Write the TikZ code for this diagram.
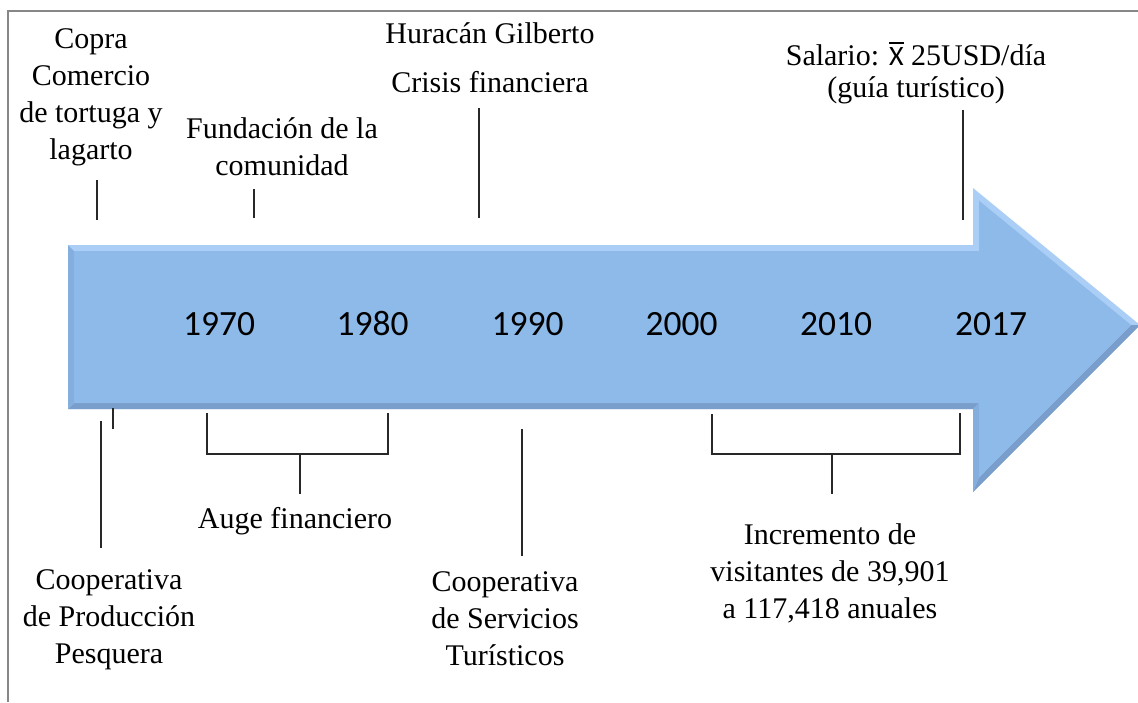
\documentclass[tikz,border=0pt]{standalone}
\usepackage{fontspec}
\setmainfont{Liberation Serif}
\newfontfamily\yearfont{Carlito}
\newcommand{\xbarsym}{{\fontsize{28}{30}\selectfont\yearfont\setbox0\hbox{X}\rlap{\raisebox{\dimexpr\ht0+3.5pt\relax}{\rule{\wd0}{1.8pt}}}X}}
\definecolor{arrowmain}{RGB}{141,186,233}
\definecolor{arrowlight}{RGB}{170,206,245}
\definecolor{arrowmid}{RGB}{132,174,222}
\definecolor{arrowdark}{RGB}{122,158,204}
\definecolor{framegray}{RGB}{135,135,135}
\definecolor{tickgray}{RGB}{40,40,40}
\begin{document}
\begin{tikzpicture}[x=1pt,y=-1pt,
  lbl/.style={font=\fontsize{30}{37}\selectfont, align=center, anchor=base, inner sep=0pt},
  yr/.style={font=\fontsize{35.5}{40}\selectfont\yearfont, anchor=base, inner sep=0pt},
  tickline/.style={draw=tickgray, line width=1.3pt},
  framelines/.style={draw=framegray, line width=1.6pt}]
\useasboundingbox (0,0) rectangle (1138,702);
\fill[white] (0,0) rectangle (1138,702);
% frame (left and top sides)
\draw[framelines] (8,702) -- (8,11) -- (1138,11);
% arrow
\begin{scope}
\clip (0,0) rectangle (1138,702);
\fill[arrowlight] (68,245) -- (973,245) -- (973,188) -- (1140,325) -- (973,492) -- (973,409) -- (68,409) -- cycle;
\fill[arrowdark] (68,409) -- (973,409) -- (979,403) -- (74,403) -- cycle;
\fill[arrowdark] (1140,325) -- (973,492) -- (979,477.5) -- (1131,325) -- cycle;
\fill[arrowmid] (973,409) -- (973,492) -- (979,477.5) -- (979,403) -- cycle;
\fill[arrowmid] (68,245) -- (74,251) -- (74,403) -- (68,409) -- cycle;
\fill[arrowmain] (74,251) -- (979,251) -- (979,200.7) -- (1131,325) -- (979,477.5) -- (979,403) -- (74,403) -- cycle;
\end{scope}
% years
\node[yr] (y1970) at (219,335) {1970};
\node[yr] (y1980) at (372.5,335) {1980};
\node[yr] (y1990) at (527.5,335) {1990};
\node[yr] (y2000) at (681.5,335) {2000};
\node[yr] (y2010) at (836,335) {2010};
\node[yr] (y2017) at (991,335) {2017};
% top labels (base anchor = baseline of the last line)
\node[lbl] (copra) at (91,159) {Copra\\Comercio\\de tortuga y\\lagarto};
\node[lbl] (fund) at (282,175) {Fundación de la\\comunidad};
\node[lbl] (hura) at (490,43) {Huracán Gilberto};
\node[lbl] (crisis) at (490,92) {Crisis financiera};
\node[lbl] (sal) at (916,97) {Salario: \xbarsym\ 25USD/día\\[-5pt](guía turístico)};
% bottom labels
\node[lbl] (auge) at (295,528) {Auge financiero};
\node[lbl] (coopp) at (109,663) {Cooperativa\\de Producción\\Pesquera};
\node[lbl] (coops) at (505,665) {Cooperativa\\de Servicios\\Turísticos};
\node[lbl] (incr) at (830,618) {Incremento de\\visitantes de 39,901\\a 117,418 anuales};
% tick coordinates
\coordinate (t1a) at (97,180);  \coordinate (t1b) at (97,220);
\coordinate (t2a) at (254,189); \coordinate (t2b) at (254,218);
\coordinate (t3a) at (479,108); \coordinate (t3b) at (479,218);
\coordinate (t4a) at (963,110); \coordinate (t4b) at (963,220);
\coordinate (b1a) at (113,408); \coordinate (b1b) at (113,429);
\coordinate (b2a) at (101,421); \coordinate (b2b) at (101,548);
\coordinate (b3a) at (522,429); \coordinate (b3b) at (522,556);
\coordinate (ag1) at (207,413); \coordinate (ag2) at (388,413);
\coordinate (agm) at (300,454); \coordinate (agt) at (300,494);
\coordinate (in1) at (712,414); \coordinate (in2) at (960,413);
\coordinate (inm) at (832,454); \coordinate (int) at (832,494);
% top ticks
\draw[tickline] (t1a) -- (t1b);
\draw[tickline] (t2a) -- (t2b);
\draw[tickline] (t3a) -- (t3b);
\draw[tickline] (t4a) -- (t4b);
% bottom ticks
\draw[tickline] (b1a) -- (b1b);
\draw[tickline] (b2a) -- (b2b);
\draw[tickline] (b3a) -- (b3b);
\draw[tickline] (ag1) -- (ag1 |- agm) -- (ag2 |- agm) -- (ag2);
\draw[tickline] (agm) -- (agt);
\draw[tickline] (in1) -- (in1 |- inm) -- (in2 |- inm) -- (in2);
\draw[tickline] (inm) -- (int);
\end{tikzpicture}
\end{document}
